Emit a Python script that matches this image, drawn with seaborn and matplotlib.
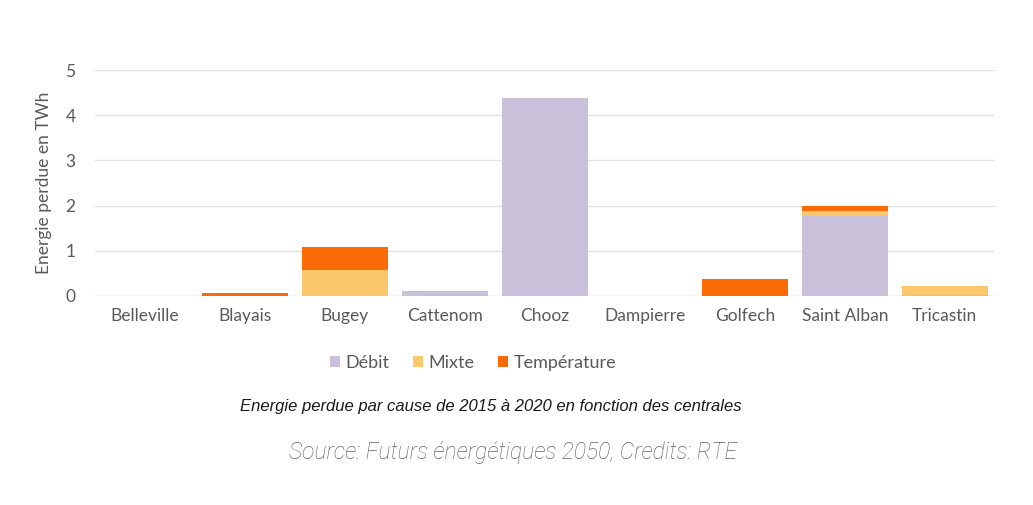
import numpy as np
import pandas as pd
import seaborn as sns
import matplotlib.pyplot as plt

centrales = ["Belleville", "Blayais", "Bugey", "Cattenom", "Chooz",
             "Dampierre", "Golfech", "Saint Alban", "Tricastin"]
debit = [0.0, 0.0, 0.0, 0.10, 4.38, 0.0, 0.0, 1.77, 0.02]
mixte = [0.0, 0.0, 0.58, 0.0, 0.0, 0.0, 0.0, 0.12, 0.20]
temperature = [0.0, 0.07, 0.50, 0.0, 0.0, 0.0, 0.37, 0.11, 0.0]
causes = ["Débit", "Mixte", "Température"]
couleurs = ["#C9C0DA", "#FAC86A", "#FA6A06"]

sns.set_style("white")
plt.rcParams['font.family'] = ['Lato', 'DejaVu Sans']

fig = plt.figure(figsize=(10.33, 5.05), dpi=100)
ax = fig.add_axes([0.092, 0.414, 0.871, 0.447])

df = pd.DataFrame({"centrale": centrales, "Débit": debit,
                   "Mixte": mixte, "Température": temperature})

bas = np.zeros(len(centrales))
for cause, coul in zip(causes, couleurs):
    sns.barplot(data=df, x="centrale", y=cause, bottom=bas, color=coul,
                width=0.86, errorbar=None, label=cause, ax=ax,
                saturation=1, linewidth=0)
    bas = bas + df[cause].to_numpy()

ax.set_ylim(0, 5)
ax.set_xlim(-0.5, len(centrales) - 0.5)
ax.set_yticks(range(6))
ax.yaxis.grid(True, color="#E3E3E3", linewidth=1)
ax.set_axisbelow(True)
sns.despine(ax=ax, left=True, bottom=True)
ax.axhline(0, color="#D9D9D9", linewidth=1, zorder=0)
ax.tick_params(axis="both", length=0, labelsize=12.5, labelcolor="#595959")
ax.tick_params(axis="y", pad=14)
ax.tick_params(axis="x", pad=9)
ax.set_xlabel("")
ax.set_ylabel("Energie perdue en TWh", fontsize=12.5, color="#595959", labelpad=10)

leg = ax.legend(loc="center", ncol=3, frameon=False, fontsize=13,
                handlelength=0.55, handleheight=0.55,
                handletextpad=0.3, columnspacing=1.3)
leg.set_bbox_to_anchor((0.458, 1 - 363 / 505), transform=fig.transFigure)
for t in leg.get_texts():
    t.set_color("#595959")

fig.text(0.475, 1 - 406 / 505, "Energie perdue par cause de 2015 à 2020 en fonction des centrales",
         ha="center", va="center", fontsize=12, style="italic",
         family=["Liberation Sans", "DejaVu Sans"], color="#1a1a1a")
fig.text(0.497, 1 - 452 / 505, "Source: Futurs énergétiques 2050, Credits: RTE",
         ha="center", va="center", fontsize=16.5, style="italic", fontweight="light",
         family=["Roboto", "DejaVu Sans"], color="#666666")

fig.savefig("out.png", dpi=100)
